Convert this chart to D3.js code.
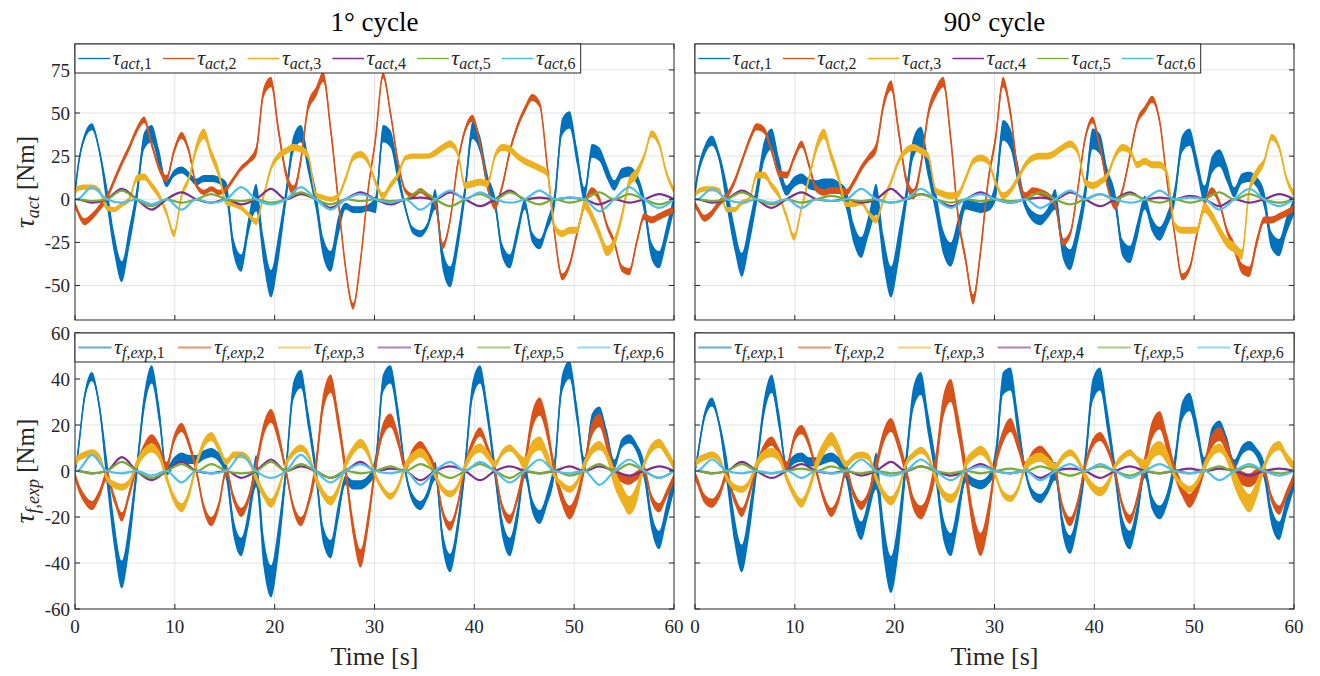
<!DOCTYPE html>
<html>
<head>
<meta charset="utf-8">
<script src="https://cdn.jsdelivr.net/npm/d3@7"></script>
<style>
  body { margin: 0; background: #fff; }
  svg text { font-family: "Liberation Serif", "Times New Roman", serif; fill: #262626; }
</style>
</head>
<body>
<svg id="chart" width="1320" height="676"></svg>
<script>
// ---------------------------------------------------------------
// Sample times [s]: fine grid for the large joints, coarse grid
// (segment boundaries and mid-points) for the small joints.
// ---------------------------------------------------------------
const tFine = [0,
  0.2,0.95,1.7,2.44, 3.19,3.94,4.69,5.43, 6.18,6.93,7.68,8.42, 9.17,9.92,10.67,11.41,
  12.16,12.91,13.66,14.4, 15.15,15.9,16.65,17.39, 18.14,18.89,19.64,20.38, 21.13,21.88,22.63,23.37,
  24.12,24.87,25.62,26.36, 27.11,27.86,28.61,29.35, 30.1,30.85,31.6,32.34, 33.09,33.84,34.59,35.33,
  36.08,36.83,37.58,38.32, 39.07,39.82,40.57,41.31, 42.06,42.81,43.56,44.3, 45.05,45.8,46.55,47.29,
  48.04,48.79,49.54,50.28, 51.03,51.78,52.53,53.27, 54.02,54.77,55.52,56.26, 57.01,57.76,58.51,59.25,
  60];
const tCoarse = [0, 0.2,1.7, 3.19,4.69, 6.18,7.68, 9.17,10.67, 12.16,13.66, 15.15,16.65, 18.14,19.64,
  21.13,22.63, 24.12,25.62, 27.11,28.61, 30.1,31.6, 33.09,34.59, 36.08,37.58, 39.07,40.57, 42.06,43.56,
  45.05,46.55, 48.04,49.54, 51.03,52.53, 54.02,55.52, 57.01,58.51, 60];

// ---------------- actuator torque, 1 deg cycle [Nm] ----------------
const act1_j1 = [3, 14,36,42,28, 2,-26,-42,-22, 2,34,38,24, 9,15,17,14, 10,12,12,11, 5,-28,-37,-15,
  1,-30,-49,-28, 2,32,38,20, 0,-28,-36,-16, -4,-6,-6,-5, -3,38,35,15, -5,-18,-20,-15,
  0,-35,-45,-25, 5,40,32,10, -2,-30,-36,-20, -3,-22,-26,-15, 0,42,46,25, 3,28,26,16,
  8,15,16,12, -3,-30,-35,-20, -2];
const act1_j2 = [-3, -6,-13,-10,-5, 1,11,21,30, 40,46,32,18, 12,28,37,28, 8,4,6,4, 6,12,18,22,
  28,62,68,40, 15,5,23,54, 62,71,40,0, -40,-62,-35,5, 35,72,50,22, 5,2,5,2,
  -2,-27,-12,20, 40,47,32,8, -4,8,28,42, 52,59,55,20, -20,-45,-38,-20, -3,5,0,-15,
  -25,-40,-42,-25, -10,-12,-10,-8, -6];
const act1_j3 = [3, 6,7,7,5, -5,-6,-3,0, 12,13,8,2, -8,-20,2,12, 30,38,26,15, -2,-3,-5,-9,
  -13,2,18,25, 28,30,29,25, 3,1,0,2, 12,24,26,22, 10,2,8,14, 24,25,25,25,
  27,30,32,27, 8,9,10,9, 25,30,29,25, 22,20,18,15, -16,-20,-18,-18, -3,-10,-20,-30,
  -25,-10,10,15, 25,38,32,15, 5];
const act1_j4 = [0, 0,-2, 0,6, 0,-6, 0,4, 0,-2, 0,-3, 0,6, 0,3, 0,-5, 0,4,
  0,-3, 0,1, 0,4, 0,-4, 0,5, 0,1, 0,1, 0,-3, 0,-2, 0,3, 0];
const act1_j5 = [0, 0,-1, 0,5, 0,-4, 0,-2, 0,3, 0,-1, 0,-2, 0,4, 0,-3, 0,-1,
  0,-1, 0,5, 0,-4, 0,3, 0,4, 0,-3, 0,-2, 0,4, 0,3, 0,-3, 0];
const act1_j6 = [0, 0,7, 0,-2, 0,-3, 0,-6, 0,-2, 0,7, 0,-3, 0,7, 0,-6, 0,3,
  0,-2, 0,-6, 0,5, 0,4, 0,-2, 0,5, 0,1, 0,-7, 0,7, 0,-5, 0];
// half-width of the measurement noise per 3 s segment [Nm]
const act1_n1 = [2,6,5,2,2,5,8,5,6,2,5,2,6,5,4,3,5,4,3,5];
const act1_n2 = [2,2,2,2,1.5,1.5,3,3,3,2,2,1.5,2,2,2,2,2,2,2,2];
const act1_n3 = [1.5,1.5,2,2,3,1.5,2,2,1.5,2,2,1.5,2,2,2,2,2,3,3,2];

// ---------------- actuator torque, 90 deg cycle [Nm] ----------------
const act90_j1 = [4, 12,28,34,24, 2,-22,-38,-20, 3,28,35,18, 5,10,12,9, 8,9,9,7, 0,-20,-28,-15,
  0,-30,-48,-28, 0,30,36,18, -2,-25,-32,-18, -3,-4,-5,-4, 5,40,35,15, -3,-10,-12,-8,
  0,-28,-35,-20, 3,35,32,12, 0,-28,-32,-18, -2,-15,-20,-12, 2,32,36,20, 3,20,24,15,
  4,12,13,10, 0,-24,-28,-15, -4];
const act90_j2 = [-3, -5,-11,-8,-2, 2,10,22,34, 42,40,28,15, 14,24,32,20, 6,4,5,5, 4,10,18,24,
  30,55,66,40, 12,3,20,50, 62,68,35,-10, -35,-58,-30,10, 35,68,50,15, 2,5,4,2,
  -3,-25,-20,5, 35,46,30,8, -4,5,25,45, 52,58,45,10, -20,-45,-40,-20, -3,5,-2,-18,
  -28,-40,-42,-25, -12,-12,-10,-8, -5];
const act90_j3 = [3, 4,6,6,5, -6,-6,-2,0, 14,14,8,2, -10,-22,-5,12, 30,38,25,12, -3,-3,-2,-8,
  -12,0,10,22, 28,30,28,25, 5,3,2,3, 12,22,24,22, 10,2,5,12, 20,24,25,25,
  27,30,32,28, 10,8,10,14, 25,30,28,20, 22,20,20,15, -15,-18,-18,-18, -5,-10,-18,-25,
  -28,-32,5,15, 22,36,30,12, 3];
const act90_j4 = [0, 0,-2, 0,5, 0,-5, 0,4, 0,-1, 0,-2, 0,6, 0,3, 0,-4, 0,4,
  0,-2, 0,1, 0,4, 0,-4, 0,4, 0,1, 0,2, 0,-4, 0,-2, 0,3, 0];
const act90_j5 = [0, 0,-1, 0,4, 0,-3, 0,-2, 0,2, 0,-1, 0,-2, 0,3, 0,-2, 0,-1,
  0,-1, 0,4, 0,-3, 0,3, 0,3, 0,-2, 0,-2, 0,4, 0,3, 0,-2, 0];
const act90_j6 = [0, 0,6, 0,-2, 0,-2, 0,-5, 0,-1, 0,6, 0,-2, 0,6, 0,-5, 0,3,
  0,-2, 0,-5, 0,5, 0,3, 0,-2, 0,5, 0,1, 0,-6, 0,6, 0,-4, 0];
const act90_n1 = [3,7,6,3,3,6,9,6,7,3,6,3,6,6,5,4,5,5,3,5];
const act90_n2 = [2,2,2,2,2,2,3,3,3,3,3,2,2,2,2,2,2,2,3,2];
const act90_n3 = [1.5,1.5,2,2,3,1.5,2,2,2,2,2,2,2,2,2,2,2,3,3,2];

// ---------------- friction torque, 1 deg cycle [Nm] ----------------
const fr1_j1 = [0, 5,32,41,28, 0,-28,-45,-28, 0,30,42,25, 0,4,6,5, 5,7,8,6, 0,-25,-33,-20,
  0,-35,-48,-30, 0,35,40,22, 0,-28,-34,-18, -4,-6,-6,-4, 3,38,42,25, 0,-12,-15,-10,
  0,-30,-40,-25, 2,35,42,25, 0,-25,-33,-20, 0,-15,-20,-12, 2,38,44,25, 3,22,25,15,
  3,12,14,10, 0,-22,-30,-18, -5];
const fr1_j2 = [-2, -5,-12,-15,-10, -2,-12,-20,-10, 2,10,14,10, 2,14,19,12, 0,-16,-22,-15, 0,-12,-18,-12,
  2,18,24,15, 0,-16,-22,-14, 2,30,38,22, 0,-25,-38,-22, 2,18,22,14, 2,8,11,7,
  0,-18,-24,-15, 2,12,17,10, 0,-16,-21,-12, 2,22,28,18, 0,-12,-18,-12, 2,18,22,12,
  0,-3,-4,-2, 0,-12,-16,-10, -3];
const fr1_j3 = [2, 5,7,8,6, -3,-6,-7,-5, 3,8,10,7, -3,-12,-16,-10, 3,12,15,10, 4,7,7,5,
  -3,-10,-14,-8, 3,8,10,7, -3,-10,-13,-8, 3,9,12,8, -2,-8,-11,-7, 2,6,8,5,
  -2,-8,-10,-7, 2,8,10,7, 3,8,10,7, 3,10,12,6, -2,-6,-8,-5, 3,9,11,7,
  -3,-10,-15,-10, 3,10,12,8, 2];
const fr1_j4 = [0, 0,-1, 0,6, 0,-4, 0,4, 0,-1, 0,-3, 0,5, 0,2, 0,-3, 0,4,
  0,1, 0,-4, 0,2, 0,-4, 0,2, 0,-1, 0,2, 0,2, 0,-2, 0,2, 0];
const fr1_j5 = [0, 0,-1, 0,4, 0,-3, 0,3, 0,3, 0,-1, 0,4, 0,3, 0,-3, 0,-1,
  0,2, 0,3, 0,-3, 0,3, 0,-3, 0,-1, 0,-2, 0,3, 0,3, 0,-3, 0];
const fr1_j6 = [0, 0,7, 0,-1, 0,-2, 0,-5, 0,-1, 0,7, 0,-3, 0,7, 0,-5, 0,3,
  0,-1, 0,-6, 0,4, 0,4, 0,-5, 0,5, 0,-1, 0,-6, 0,5, 0,-3, 0];
const fr1_n1 = [2,6,4,2,2,4,7,4,4,2,4,2,4,4,4,3,4,3,2,4];
const fr1_n2 = [2,2,2,2,2,2,3,2,4,4,3,2,2,2,2,4,3,3,2,2];
const fr1_n3 = [1.5,1.5,2,2,2,1.5,2,1.5,2,2,1.5,2,1.5,2,1.5,3,1.5,2,4,2];

// ---------------- friction torque, 90 deg cycle [Nm] ----------------
const fr90_j1 = [0, 5,24,30,20, 0,-25,-38,-22, 2,28,38,22, 2,5,6,4, 4,5,6,4, 0,-18,-26,-15,
  0,-30,-45,-28, 3,32,38,20, 0,-25,-32,-18, -3,-5,-6,-4, 5,38,40,20, 0,-10,-12,-8,
  0,-24,-32,-20, 3,35,40,22, 0,-24,-30,-18, 0,-14,-18,-12, 3,26,30,18, 3,16,19,12,
  3,9,11,8, 0,-20,-26,-15, -4];
const fr90_j2 = [-2, -4,-12,-14,-10, -2,-12,-18,-10, 2,10,13,8, 2,14,18,12, 0,-12,-18,-12, 0,-10,-15,-10,
  2,15,20,12, 0,-14,-18,-12, 3,28,35,20, 0,-22,-32,-20, 3,15,20,12, 2,7,9,6,
  0,-16,-22,-14, 2,12,15,10, 0,-15,-21,-12, 3,18,22,12, 0,-8,-13,-8, 2,13,16,10,
  0,-3,-4,-2, 0,-12,-17,-10, -3];
const fr90_j3 = [2, 4,6,7,5, -3,-7,-8,-5, 3,7,8,6, -3,-10,-14,-8, 3,10,14,9, 3,6,7,6,
  -3,-10,-13,-8, 3,7,9,6, -3,-10,-12,-8, 3,7,9,6, -2,-10,-12,-8, 2,5,6,4,
  2,6,8,5, -2,-7,-9,-6, 2,6,8,5, 2,8,10,6, -2,-6,-8,-5, 2,8,10,6,
  -3,-10,-14,-8, 2,9,11,6, 2];
const fr90_j4 = [0, 0,-1, 0,4, 0,-3, 0,3, 0,-1, 0,-2, 0,4, 0,2, 0,-2, 0,3,
  0,-1, 0,-3, 0,1, 0,-3, 0,2, 0,-1, 0,1, 0,1, 0,-2, 0,1, 0];
const fr90_j5 = [0, 0,-1, 0,3, 0,-1, 0,1, 0,2, 0,-1, 0,-1, 0,2, 0,-1, 0,-1,
  0,1, 0,2, 0,-2, 0,2, 0,-2, 0,-1, 0,-1, 0,2, 0,2, 0,-1, 0];
const fr90_j6 = [0, 0,5, 0,-1, 0,-1, 0,-3, 0,-1, 0,5, 0,-2, 0,5, 0,-4, 0,2,
  0,-1, 0,-4, 0,3, 0,3, 0,-3, 0,3, 0,-1, 0,-4, 0,3, 0,-2, 0];
const fr90_n1 = [2,6,4,2,2,4,8,5,5,2,5,2,4,5,4,3,4,3,2,4];
const fr90_n2 = [2,2,2,2,2,2,3,3,5,5,3,2,2,2,2,4,3,3,3,2];
const fr90_n3 = [1.5,1.5,2,2,3,1.5,2,1.5,2,2,1.5,2,1.5,2,1.5,3,1.5,2,4,2];

// axis ticks and labels
const timeTicks = [0, 10, 20, 30, 40, 50, 60];
const actTicks = [-50, -25, 0, 25, 50, 75];
const frTicks = [-60, -40, -20, 0, 20, 40, 60];
const titles = ["1\u00B0 cycle", "90\u00B0 cycle"];
const colors = ["#0072BD", "#D95319", "#EDB120", "#7E2F8E", "#77AC30", "#4DBEEE"];

// ---------------------------------------------------------------
const svg = d3.select("#chart");
const colX = [[75, 674], [695, 1294]];
const rowY = [[44, 320], [333, 609]];

const panels = [
  { col: 0, row: 0, dom: [-70, 90], ticks: actTicks, kind: "act",
    big: [act1_j1, act1_j2, act1_j3], noise: [act1_n1, act1_n2, act1_n3], small: [act1_j4, act1_j5, act1_j6] },
  { col: 1, row: 0, dom: [-70, 90], ticks: actTicks, kind: "act",
    big: [act90_j1, act90_j2, act90_j3], noise: [act90_n1, act90_n2, act90_n3], small: [act90_j4, act90_j5, act90_j6] },
  { col: 0, row: 1, dom: [-60, 60], ticks: frTicks, kind: "fr",
    big: [fr1_j1, fr1_j2, fr1_j3], noise: [fr1_n1, fr1_n2, fr1_n3], small: [fr1_j4, fr1_j5, fr1_j6] },
  { col: 1, row: 1, dom: [-60, 60], ticks: frTicks, kind: "fr",
    big: [fr90_j1, fr90_j2, fr90_j3], noise: [fr90_n1, fr90_n2, fr90_n3], small: [fr90_j4, fr90_j5, fr90_j6] }
];

const segOf = i => Math.min(19, Math.max(0, Math.floor((i - 1) / 4)));

// writes tau with a subscript made of italic letters and upright digits/commas
function tauLabel(textSel, size, subSize, subParts, shift) {
  textSel.append("tspan").attr("font-style", "italic").attr("font-size", size).text("\u03C4");
  subParts.forEach((p, k) => {
    const ts = textSel.append("tspan").attr("font-size", subSize)
      .attr("font-style", p.it ? "italic" : "normal").text(p.s);
    if (k === 0) ts.attr("dy", shift);
  });
}

panels.forEach((p, pi) => {
  const [x0, x1] = colX[p.col];
  const [y0, y1] = rowY[p.row];
  const x = d3.scaleLinear().domain([0, 60]).range([x0, x1]);
  const y = d3.scaleLinear().domain(p.dom).range([y1, y0]);
  const g = svg.append("g");

  // grid
  g.append("g").selectAll("line").data(timeTicks.slice(1, -1)).join("line")
    .attr("x1", d => x(d)).attr("x2", d => x(d)).attr("y1", y0).attr("y2", y1)
    .attr("stroke", "#e3e3e3").attr("stroke-width", 1);
  g.append("g").selectAll("line").data(p.ticks.filter(t => y(t) > y0 + 1 && y(t) < y1 - 1)).join("line")
    .attr("x1", x0).attr("x2", x1).attr("y1", d => y(d)).attr("y2", d => y(d))
    .attr("stroke", "#e3e3e3").attr("stroke-width", 1);

  // data, clipped to the axes box
  const clipId = "clip" + pi;
  svg.append("clipPath").attr("id", clipId).append("rect")
    .attr("x", x0).attr("y", y0).attr("width", x1 - x0).attr("height", y1 - y0);
  const dg = g.append("g").attr("clip-path", `url(#${clipId})`);

  p.big.forEach((vals, si) => {
    const nz = p.noise[si];
    const band = d3.area().curve(d3.curveMonotoneX)
      .x((d, i) => x(tFine[i]))
      .y0((d, i) => y(d - nz[segOf(i)]))
      .y1((d, i) => y(d + nz[segOf(i)]));
    dg.append("path").datum(vals).attr("d", band).attr("fill", colors[si]).attr("stroke", "none");
    const line = d3.line().curve(d3.curveMonotoneX).x((d, i) => x(tFine[i])).y(d => y(d));
    dg.append("path").datum(vals).attr("d", line).attr("fill", "none")
      .attr("stroke", colors[si]).attr("stroke-width", 1.6);
  });
  p.small.forEach((vals, si) => {
    const line = d3.line().curve(d3.curveMonotoneX).x((d, i) => x(tCoarse[i])).y(d => y(d));
    dg.append("path").datum(vals).attr("d", line).attr("fill", "none")
      .attr("stroke", colors[si + 3]).attr("stroke-width", 2.2);
  });

  // axes box and inward ticks
  const ax = g.append("g").attr("stroke", "#262626").attr("stroke-width", 1);
  ax.append("rect").attr("x", x0).attr("y", y0).attr("width", x1 - x0).attr("height", y1 - y0)
    .attr("fill", "none");
  timeTicks.forEach(t => {
    ax.append("line").attr("x1", x(t)).attr("x2", x(t)).attr("y1", y1).attr("y2", y1 - 5);
    ax.append("line").attr("x1", x(t)).attr("x2", x(t)).attr("y1", y0).attr("y2", y0 + 5);
  });
  p.ticks.forEach(t => {
    ax.append("line").attr("x1", x0).attr("x2", x0 + 5).attr("y1", y(t)).attr("y2", y(t));
    ax.append("line").attr("x1", x1).attr("x2", x1 - 5).attr("y1", y(t)).attr("y2", y(t));
  });

  // tick labels
  if (p.col === 0) {
    g.append("g").selectAll("text").data(p.ticks).join("text")
      .attr("x", x0 - 5).attr("y", d => y(d)).attr("dy", "0.35em")
      .attr("text-anchor", "end").attr("font-size", 19).text(d => d);
  }
  if (p.row === 1) {
    g.append("g").selectAll("text").data(timeTicks).join("text")
      .attr("x", d => x(d)).attr("y", y1 + 24)
      .attr("text-anchor", "middle").attr("font-size", 19).text(d => d);
    g.append("text").attr("x", (x0 + x1) / 2).attr("y", y1 + 56)
      .attr("text-anchor", "middle").attr("font-size", 26).text("Time [s]");
  }
  if (p.row === 0) {
    g.append("text").attr("x", (x0 + x1) / 2).attr("y", 31)
      .attr("text-anchor", "middle").attr("font-size", 27).style("fill", "#000").text(titles[p.col]);
  }

  // y axis label
  if (p.col === 0) {
    const cy = (y0 + y1) / 2;
    const lab = g.append("text").attr("transform", `translate(34,${cy}) rotate(-90)`)
      .attr("text-anchor", "middle");
    const sub = p.kind === "act" ? [{ s: "act", it: true }] : [{ s: "f", it: true }, { s: ",", it: false }, { s: "exp", it: true }];
    tauLabel(lab, 27, 18, sub, 5);
    lab.append("tspan").attr("dy", -5).attr("font-size", 25).text(" [Nm]");
  }

  // legend
  const top = p.row === 0;
  const legW = top ? 505.7 : (x1 - x0);
  const spacing = top ? 84.7 : 99.8;
  const lineLen = top ? 31.7 : 33.3;
  const lg = g.append("g");
  lg.append("rect").attr("x", x0).attr("y", y0).attr("width", legW).attr("height", 29)
    .attr("fill", "#fff").attr("stroke", "#262626").attr("stroke-width", 1);
  for (let k = 0; k < 6; k++) {
    const ex = x0 + 3.3 + k * spacing;
    lg.append("line").attr("x1", ex).attr("x2", ex + lineLen).attr("y1", y0 + 14.5).attr("y2", y0 + 14.5)
      .attr("stroke", colors[k]).attr("stroke-width", top ? 1.3 : 1.8)
      .attr("stroke-opacity", top ? 1 : 0.6);
    const t = lg.append("text").attr("x", ex + lineLen + 2.5).attr("y", y0 + 20.5);
    const sub = top
      ? [{ s: "act", it: true }, { s: "," + (k + 1), it: false }]
      : [{ s: "f", it: true }, { s: ",", it: false }, { s: "exp", it: true }, { s: "," + (k + 1), it: false }];
    tauLabel(t, 22, 16, sub, 4);
  }
});
</script>
</body>
</html>
